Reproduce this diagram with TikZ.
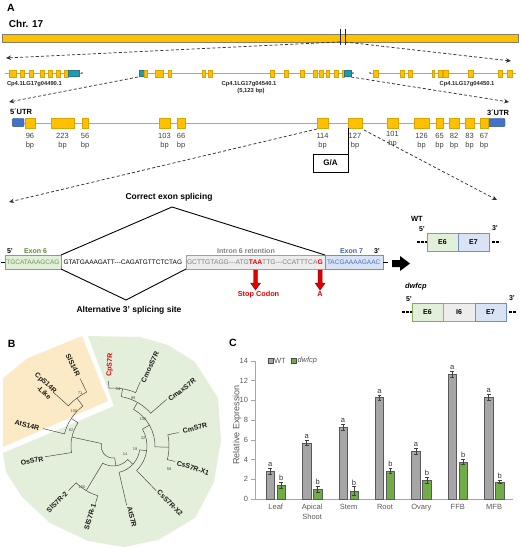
\documentclass[tikz,border=0pt]{standalone}
\usepackage{fontspec}
\setmainfont{Liberation Sans}
\usetikzlibrary{arrows.meta}
\definecolor{gold}{HTML}{FFC000}
\definecolor{goldb}{HTML}{D9A400}
\definecolor{chrb}{HTML}{7F7F6A}
\definecolor{tealc}{HTML}{2398B0}
\definecolor{utr}{HTML}{4472C4}
\definecolor{utrb}{HTML}{2F528F}
\definecolor{navy}{HTML}{1F2A5C}
\definecolor{introngray}{HTML}{A6A6A6}
\definecolor{esixfill}{HTML}{E2EFDA}
\definecolor{esixborder}{HTML}{7DAE57}
\definecolor{esixtext}{HTML}{6A9E45}
\definecolor{esixlabel}{HTML}{5A8A3A}
\definecolor{isixfill}{HTML}{EDEDED}
\definecolor{isixborder}{HTML}{A0A0A0}
\definecolor{isixtext}{HTML}{808080}
\definecolor{esevfill}{HTML}{DAE3F3}
\definecolor{esevborder}{HTML}{6F8FC9}
\definecolor{esevtext}{HTML}{4472C4}
\definecolor{esevlabel}{HTML}{3F63A8}
\definecolor{stopred}{HTML}{E00000}
\definecolor{darkred}{HTML}{8B0000}
\definecolor{bgyellow}{HTML}{FCEAC6}
\definecolor{bggreen}{HTML}{E3EFDA}
\definecolor{wtbar}{HTML}{A6A6A6}
\definecolor{dwbar}{HTML}{70AD47}
\definecolor{axisgray}{HTML}{A6A6A6}
\definecolor{txtgray}{HTML}{595959}
\newcommand{\fsz}[2]{\fontsize{#1}{#2}\selectfont}
\newcommand{\hy}{-{}-{}-}
\begin{document}
\begin{tikzpicture}[x=1pt,y=-1pt,
  every node/.style={inner sep=0pt, outer sep=0pt},
  dasharrow/.style={draw=black!80, line width=0.75pt, dash pattern=on 3pt off 2.2pt, -{Stealth[length=5pt,width=4.5pt]}},
  intronline/.style={draw=introngray, line width=0.9pt},
  exonbox/.style={draw=goldb, fill=gold, line width=0.4pt},
  tealbox/.style={draw=tealc!80!black, fill=tealc, line width=0.4pt},
  utrbox/.style={draw=utrb, fill=utr, line width=0.4pt, rounded corners=1pt},
  genename/.style={font=\fsz{5.8}{7}\bfseries, text=black!85},
  bpnum/.style={font=\fsz{7.5}{9}, text=black!75, anchor=base},
  headline/.style={font=\fsz{8.5}{10}\bfseries, anchor=base},
  seq/.style={font=\fsz{6.5}{8}, anchor=base west},
  iseq/.style={font=\fsz{6.7}{8}, anchor=base west},
  iseqbold/.style={font=\fsz{6.7}{8}\bfseries, anchor=base west},
  smalllab/.style={font=\fsz{7}{8}\bfseries, anchor=base west},
  redarrow/.style={fill=stopred, draw=darkred, line width=0.4pt},
  splice/.style={draw=black, line width=0.9pt},
  treeline/.style={draw=black!70, line width=0.5pt},
  leaf/.style={font=\fsz{7}{8.6}\bfseries, text=black!90},
  boot/.style={font=\fsz{4}{5}, text=black!70},
  panel/.style={font=\fsz{10.5}{12}\bfseries, anchor=base west},
  mini/.style={draw, minimum height=18pt, anchor=north west, font=\fsz{7}{8}\bfseries, line width=0.6pt},
  wtbarst/.style={draw=black!65, fill=wtbar, line width=0.5pt},
  dwbarst/.style={draw=black!65, fill=dwbar, line width=0.5pt},
  errst/.style={draw=black!75, line width=0.45pt},
  letter/.style={anchor=south, yshift=1.5pt, font=\fsz{7.5}{9}, text=black!80},
  catl/.style={anchor=north, yshift=-5.5pt, align=center, font=\fsz{7.5}{9.5}, text=txtgray},
  axisst/.style={draw=axisgray, line width=0.6pt}
]
\useasboundingbox (0,0) rectangle (520,548);

% ---------------- Panel A ----------------
\node[panel] (lblA) at (7,12) {A};
\node[font=\fsz{10}{12}\bfseries, anchor=base west] (chrname) at (9,28) {Chr. 17};
\node[draw=chrb, fill=gold, line width=0.6pt, minimum width=516pt, minimum height=8pt, anchor=north west] (chr) at (2,34) {};
\draw[navy, line width=0.9pt] (340,29) -- (340,45) (345,29) -- (345,45);
\coordinate (mkL) at (340,42);
\coordinate (mkR) at (345,42);
\coordinate (arrL1) at (6,58);
\coordinate (arrR1) at (511,61);
\draw[dasharrow] (mkL) -- (arrL1);
\draw[dasharrow] (mkR) -- (arrR1);

% gene row
\draw[intronline] (5,73) -- (82,73);
\foreach \a/\b in {9/16,20/24,29/33,40/44,48/52,56/60,64/68} \draw[exonbox] (\a,70) rectangle (\b,77);
\draw[tealbox] (68,70.5) rectangle (79,76);
\fill[black!70] (82,73) circle (0.9);

\draw[intronline] (139,73) -- (353,73);
\draw[tealbox] (139,70.5) rectangle (144,76);
\foreach \a/\b in {144/147,155/163,168/171,202/205,208/212,270/274,284/288,300/304,313/317,319/323,326/329,334/338,342/344} \draw[exonbox] (\a,70) rectangle (\b,77);
\draw[tealbox] (344,70.5) rectangle (351,76);
\fill[black!70] (353,73) circle (0.9);

\draw[intronline] (370,73) -- (516,73);
\fill[black!70] (370,73) circle (0.9);
\foreach \a/\b in {373/378,400/404,408/412,432/434.5,438/442,443/448,468/473,498/502,507/512} \draw[exonbox] (\a,70) rectangle (\b,77);

\node[genename, anchor=base west] (gn1) at (7,85.7) {Cp4.1LG17g04490.1};
\node[genename, anchor=base] (gn2) at (249,85.7) {Cp4.1LG17g04540.1};
\node[genename, anchor=base] (gn2b) at (251,92.5) {(5,123 bp)};
\node[genename, anchor=base] (gn3) at (467,85.3) {Cp4.1LG17g04450.1};

\coordinate (g2L) at (138,77);
\coordinate (g2R) at (351,77);
\coordinate (arrL2) at (9,102);
\coordinate (arrR2) at (509,102);
\draw[dasharrow] (g2L) -- (arrL2);
\draw[dasharrow] (g2R) -- (arrR2);

% gene structure
\node[font=\fsz{7.5}{9}\bfseries, anchor=base west] (utr5) at (10,115) {5´UTR};
\node[font=\fsz{7.5}{9}\bfseries, anchor=base west] (utr3) at (487,115.5) {3´UTR};
\draw[intronline] (12,123) -- (505,123);
\draw[utrbox] (12.3,118.3) rectangle (24,126.7);
\draw[utrbox] (488,118.3) rectangle (505,126.7);
\foreach \a/\b in {25/35,51/74,82/88,159/170,177/185,317/328,348/362,387/398,414/429,436/443,449/459,465/474,480/488} \draw[exonbox] (\a,118) rectangle (\b,128);
\foreach \x/\bpn/\dy [count=\k] in {30/96/0,62.5/223/0,85/56/0,164.5/103/0,181/66/0,322.5/114/0,355/127/0,392.5/101/-2,421.5/126/0,439.5/65/0,454/82/0,469.5/83/0,484/67/0} {
  \node[bpnum] (num\k) at (\x,138.3+\dy) {\bpn};
  \node[bpnum] (bp\k) at (\x,147.2+\dy) {bp};
}
% G/A box
\node[draw, line width=0.9pt, minimum width=35pt, minimum height=18pt, anchor=north east, font=\fsz{8}{9}\bfseries] (ga) at (348,154) {G/A};
\coordinate (e127) at (348,128);
\draw[line width=0.9pt] (e127) -- (ga.north east);

\coordinate (e114) at (317,129);
\coordinate (e127r) at (364,130);
\coordinate (arrL3) at (9,202);
\coordinate (arrR3) at (497,200);
\draw[dasharrow] (e114) -- (arrL3);
\draw[dasharrow] (e127r) -- (arrR3);

% splicing diagram
\node[headline] (correct) at (169,199.5) {Correct exon splicing};
\node[headline] (alt) at (129,312) {Alternative 3' splicing site};

\node[draw=esixborder, fill=esixfill, line width=0.6pt, minimum width=56pt, minimum height=14pt, anchor=north west] (ex6) at (5,255) {};
\node[draw=isixborder, fill=isixfill, line width=0.6pt, minimum width=139pt, minimum height=14pt, anchor=north west] (in6) at (186,255) {};
\node[draw=esevborder, fill=esevfill, line width=0.6pt, minimum width=58pt, minimum height=14pt, anchor=north west] (ex7) at (325,255) {};
\coordinate (apexU) at (172,207);
\coordinate (apexD) at (126,300);
\draw[splice] (ex6.north east) -- (apexU) -- (ex7.north west);
\draw[splice] (ex6.south east) -- (apexD) -- (in6.south west);
\coordinate (d6) at (1,262);
\coordinate (d7) at (388,262);
\draw[line width=0.9pt] (ex6.west) -- (d6);
\draw[line width=0.9pt] (ex7.east) -- (d7);

\node[smalllab] (p5) at (7,253) {5'};
\node[smalllab, text=esixlabel] (ex6lab) at (24,253) {Exon 6};
\node[smalllab, text=isixtext, anchor=base] (in6lab) at (246,253) {Intron 6 retention};
\node[smalllab, text=esevlabel] (ex7lab) at (340,253) {Exon 7};
\node[smalllab] (p3) at (374,253) {3'};

\node[seq, text=esixtext] (e6seq) at (6.3,264.5) {TGCATAAAGCAG};
\node[seq] (blkseq) at (63.5,264.5) {GTATGAAAGATT\hy CAGATGTTCTCTAG};
\node[iseq, text=isixtext] (i6a) at (187,264.5) {GCTTGTAGG\hy ATG};
\node[iseqbold, text=stopred] (taa) at (i6a.base east) {TAA};
\node[iseq, text=isixtext] (i6b) at (taa.base east) {TTG\hy CCATTTCA};
\node[iseqbold, text=stopred] (gg) at (i6b.base east) {G};
\node[seq, text=esevtext] (e7seq) at (327,264.5) {TACGAAAAGAAC};

\draw[redarrow] ([shift={(-2,5.5)}]taa.south) -- ++(0,13) -- ++(-3,0) -- ++(5,7) -- ++(5,-7) -- ++(-3,0) -- ++(0,-13) -- cycle;
\draw[redarrow] ([shift={(-2,5.5)}]gg.south) -- ++(0,13) -- ++(-3,0) -- ++(5,7) -- ++(5,-7) -- ++(-3,0) -- ++(0,-13) -- cycle;
\node[font=\fsz{7.3}{9}\bfseries, text=stopred, anchor=base] (stoplab) at (258.5,296) {Stop Codon};
\node[font=\fsz{7.3}{9}\bfseries, text=stopred, anchor=base] (alab) at (gg.south |- stoplab.base) {A};

% big arrow
\fill[black] (392,260) -- (400,260) -- (400,256) -- (410,263.5) -- (400,271) -- (400,267) -- (392,267) -- cycle;

% WT
\node[font=\fsz{7.5}{9}\bfseries, anchor=base west] (wtlab) at (411,221) {WT};
\node[mini, draw=esixborder, fill=esixfill, minimum width=31pt] (wtE6) at (427,233) {E6};
\node[mini, draw=esevborder, fill=esevfill, minimum width=31pt] (wtE7) at (wtE6.north east) {E7};
\node[smalllab] (wt5) at (419,231) {5'};
\node[smalllab] (wt3) at (492,230) {3'};
\coordinate (wtdl) at (417,242);
\coordinate (wtdr) at (500,242);
\draw[line width=1.1pt, dash pattern=on 2.6pt off 1.4pt] (wtdl) -- (wtE6.west);
\draw[line width=1.1pt, dash pattern=on 2.6pt off 1.4pt] (wtE7.east) ++(3,0) -- (wtdr);

% dwfcp
\node[font=\fsz{7.5}{9}\bfseries\itshape, anchor=base west] (dwlab) at (405,288) {dwfcp};
\node[mini, draw=esixborder, fill=esixfill, minimum width=31pt] (dwE6) at (412,303) {E6};
\node[mini, draw=isixborder, fill=isixfill, minimum width=32pt] (dwI6) at (dwE6.north east) {I6};
\node[mini, draw=esevborder, fill=esevfill, minimum width=31pt] (dwE7) at (dwI6.north east) {E7};
\node[smalllab] (dw5) at (406,301) {5'};
\node[smalllab] (dw3) at (509,300) {3'};
\coordinate (dwdl) at (402,312);
\coordinate (dwdr) at (516,312);
\draw[line width=1.1pt, dash pattern=on 2.6pt off 1.4pt] (dwdl) -- (dwE6.west);
\draw[line width=1.1pt, dash pattern=on 2.6pt off 1.4pt] (dwE7.east) ++(3,0) -- (dwdr);

% ---------------- Panel B ----------------
\node[panel] (lblB) at (8,347) {B};
\fill[bgyellow] (3,378) -- (28,358) -- (82,336) -- (108,401) -- (3,447) -- cycle;
\fill[bggreen] (88,336) -- (140,337) -- (168,345) -- (195,362) -- (218,398) -- (221,440) -- (214,482) -- (195,518) -- (158,540) -- (124,547) -- (88,541) -- (50,523) -- (22,497) -- (6,472) -- (3,453) -- (114,406) -- cycle;

\begin{scope}[shift={(113,446)}, yscale=-1]
  \draw[treeline] (-244:75) -- (-244:60) arc[start angle=-244, end angle=-222, radius=60] -- (-222:79);
  \draw[treeline] (-233:60) -- (-233:50) arc[start angle=-233, end angle=-194, radius=50] -- (-194:72);
  \draw[treeline] (-213.5:50) -- (-213.5:42) arc[start angle=-213.5, end angle=-171, radius=42] -- (-171:69);
  \draw[treeline] (94:65) -- (94:58) arc[start angle=94, end angle=67, radius=58] -- (67:70);
  \draw[treeline] (80.5:58) -- (80.5:50) arc[start angle=80.5, end angle=41, radius=50] -- (41:71);
  \draw[treeline] (11.6:67) -- (11.6:56) arc[start angle=11.6, end angle=-14, radius=56] -- (-14:64);
  \draw[treeline] (60.75:50) -- (60.75:42) arc[start angle=60.75, end angle=-1.2, radius=42] -- (-1.2:56);
  \draw[treeline] (29.8:42) -- (29.8:34) arc[start angle=29.8, end angle=-46, radius=34] -- (-46:62);
  \draw[treeline] (-8.1:34) -- (-8.1:27) arc[start angle=-8.1, end angle=-77, radius=27] -- (-77:61);
  \draw[treeline] (-107:60) -- (-107:52) arc[start angle=-107, end angle=-135, radius=52] -- (-135:63);
  \draw[treeline] (-42.5:27) -- (-42.5:20) arc[start angle=-42.5, end angle=-121, radius=20] -- (-121:52);
  \draw[treeline] (-81.8:20) -- (-81.8:12) arc[start angle=-81.8, end angle=-192.25, radius=12] -- (-192.25:42);
\end{scope}

\node[leaf, rotate=-64] (tSlS14R) at (73,365) {SlS14R};
\node[leaf, rotate=-42, align=right] (tCpS14R) at (43,386) {CpS14R\\-Like};
\node[leaf, rotate=-14] (tAtS14R) at (27,425) {AtS14R};
\node[leaf, rotate=12] (tOsS7R) at (32,461) {OsS7R};
\node[leaf, rotate=45] (tSlS7R2) at (57,502) {SlS7R-2};
\node[leaf, rotate=73] (tSlS7R1) at (90,517) {SlS7R-1};
\node[leaf, rotate=-76] (tAtS7R) at (132,517) {AtS7R};
\node[leaf, rotate=-46] (tCsS7RX2) at (170,503) {CsS7R-X2};
\node[leaf, rotate=-18] (tCsS7RX1) at (193,468) {CsS7R-X1};
\node[leaf, rotate=13] (tCmS7R) at (195,428) {CmS7R};
\node[leaf, rotate=38] (tCmaxS7R) at (182,390) {CmaxS7R};
\node[leaf, rotate=65] (tCmosS7R) at (150,367) {CmosS7R};
\node[leaf, rotate=87, text=stopred] (tCpS7R) at (110,365) {CpS7R};

\node[boot] (b71) at (80,393) {71};
\node[boot] (b100a) at (74,411) {100};
\node[boot] (b62) at (71,430) {62};
\node[boot] (b54) at (118,389) {54};
\node[boot] (b99) at (133,398) {99};
\node[boot] (b100b) at (143,419) {100};
\node[boot] (b32) at (143,438) {32};
\node[boot] (b58) at (169,469) {58};
\node[boot] (b19) at (135,449) {19};
\node[boot] (b14) at (125,454) {14};
\node[boot] (b100c) at (82,487) {100};

% ---------------- Panel C ----------------
\node[panel] (lblC) at (229,346) {C};
\node[rotate=90, font=\fsz{9}{10}, text=txtgray] (ylab) at (237,425) {Relative Expression};
\node[draw=black!70, fill=wtbar, line width=0.5pt, minimum size=5pt] (legwt) at (270.5,361) {};
\node[anchor=west, font=\fsz{7.5}{9}, text=txtgray] (legwtt) at (274,361) {WT};
\node[draw=black!70, fill=dwbar, line width=0.5pt, minimum size=5pt] (legdw) at (294,361) {};
\node[anchor=west, font=\fsz{7.5}{9}\itshape, text=txtgray] (legdwt) at (297.5,361) {dwfcp};

\begin{scope}[shift={(255,499)}, y=9.86pt]
  \draw[axisst] (0,0) -- (0,14);
  \draw[axisst] (0,0) -- (258,0);
  \foreach \v in {0,2,...,14} {
    \draw[axisst] (-4,\v) -- (0,\v);
    \node[anchor=east, font=\fsz{7.5}{9}, text=txtgray] (tick\v) at (-7,\v) {\v};
  }
  \foreach \i/\w/\we/\d/\de in {0/2.84/0.3/1.4/0.35, 1/5.7/0.25/1.0/0.3, 2/7.3/0.3/0.8/0.45, 3/10.3/0.25/2.85/0.25, 4/4.87/0.3/1.9/0.3, 5/12.7/0.3/3.75/0.25, 6/10.35/0.3/1.75/0.2} {
    \pgfmathsetmacro\xa{11+36.4*\i}
    \pgfmathsetmacro\xb{22+36.4*\i}
    \draw[wtbarst] (\xa,0) rectangle ({\xa+8.5},\w);
    \draw[dwbarst] (\xb,0) rectangle ({\xb+8.5},\d);
    \draw[errst] ({\xa+4.25},{\w-\we}) -- ({\xa+4.25},{\w+\we})
                 ({\xa+2.3},{\w+\we}) -- ({\xa+6.2},{\w+\we})
                 ({\xa+2.3},{\w-\we}) -- ({\xa+6.2},{\w-\we});
    \draw[errst] ({\xb+4.25},{\d-\de}) -- ({\xb+4.25},{\d+\de})
                 ({\xb+2.3},{\d+\de}) -- ({\xb+6.2},{\d+\de})
                 ({\xb+2.3},{\d-\de}) -- ({\xb+6.2},{\d-\de});
    \node[letter] (la\i) at ({\xa+4.25},{\w+\we}) {a};
    \node[letter] (lb\i) at ({\xb+4.25},{\d+\de}) {b};
  }
  \foreach \i/\c in {0/Leaf,1/{Apical\\Shoot},2/Stem,3/Root,4/Ovary,5/FFB,6/MFB} {
    \pgfmathsetmacro\xc{20.75+36.4*\i}
    \node[catl] (cat\i) at (\xc,0) {\c};
  }
\end{scope}
\end{tikzpicture}
\end{document}
